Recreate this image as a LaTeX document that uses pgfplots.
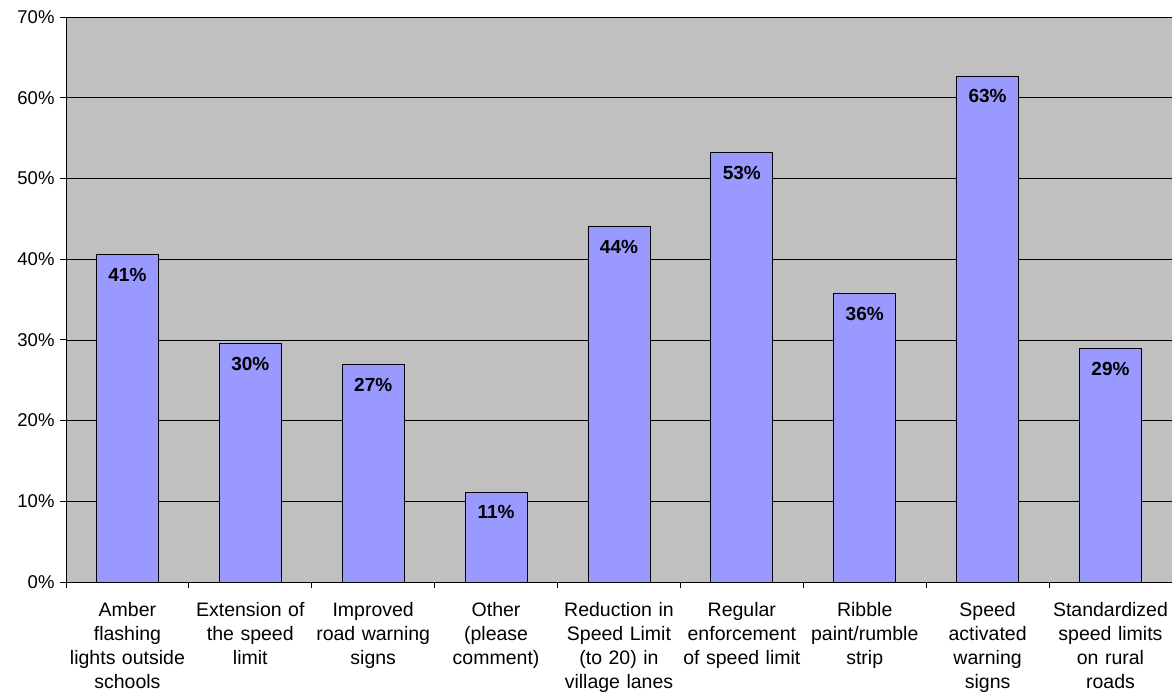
\documentclass[border=0pt]{standalone}
\usepackage{fontspec}
\setmainfont{Liberation Sans}
\usepackage{pgfplots}
\pgfplotsset{compat=1.18}
\definecolor{plotbg}{HTML}{C0C0C0}
\definecolor{barfill}{HTML}{9999FF}
\begin{document}
\begin{tikzpicture}
\begin{axis}[
  at={(66pt,113pt)}, anchor=south west,
  scale only axis, width=1106pt, height=565pt,
  /pgf/number format/assume math mode=true,
  ymin=0, ymax=70, ytick={0,10,...,70},
  yticklabel={\pgfmathprintnumber{\tick}\%},
  xmin=-0.5, xmax=8.5, xtick={0,...,8},
  xticklabels={
    {Amber\\flashing\\lights outside\\schools},
    {Extension of\\the speed\\limit},
    {Improved\\road warning\\signs},
    {Other\\(please\\comment)},
    {Reduction in\\Speed Limit\\(to 20) in\\village lanes},
    {Regular\\enforcement\\of speed limit},
    {Ribble\\paint/rumble\\strip},
    {Speed\\activated\\warning\\signs},
    {Standardized\\speed limits\\on rural\\roads}},
  minor xtick={-0.5,0.5,...,8.5},
  tick align=outside,
  major tick length=6pt, minor tick length=6pt,
  major x tick style={draw=none},
  tick style={black, line width=0.8pt},
  axis x line*=bottom, axis y line*=left,
  axis line style={black, line width=0.8pt, -},
  ymajorgrids, grid style={black, line width=0.6pt},
  axis background/.style={fill=plotbg},
  xticklabel style={text width=130pt, align=center, font=\fontsize{19.5}{24}\selectfont, inner sep=0pt, yshift=-14pt},
  yticklabel style={font=\fontsize{18.5}{18.5}\selectfont, xshift=-2pt},
  ybar, bar width=62pt,
  point meta=explicit symbolic,
  nodes near coords,
  every node near coord/.append style={anchor=north, yshift=-10pt, font=\bfseries\fontsize{19}{19}\selectfont, text=black},
]
\addplot[fill=barfill, draw=black, line width=0.8pt] table[x=x, y=y, meta=lab] {
x y lab
0 40.6 41\%
1 29.5 30\%
2 27.0 27\%
3 11.15 11\%
4 44.1 44\%
5 53.2 53\%
6 35.8 36\%
7 62.7 63\%
8 28.9 29\%
};
\end{axis}
\pgfresetboundingbox
\path[use as bounding box] (0,0) rectangle (1172pt,695pt);
\end{tikzpicture}
\end{document}
